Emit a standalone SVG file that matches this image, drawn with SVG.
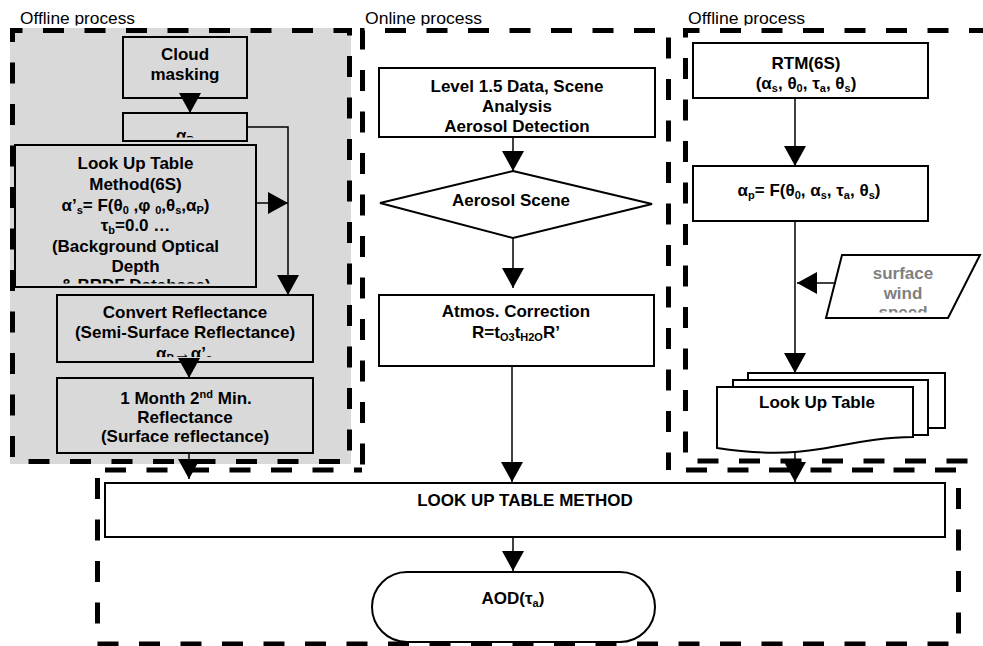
<svg xmlns="http://www.w3.org/2000/svg" width="983" height="646" viewBox="0 0 983 646">
<defs>
<style>
.nd{fill:#fff;stroke:#000;stroke-width:2}
.gn{fill:#d9d9d9;stroke:#000;stroke-width:2}
.t{font-family:"Liberation Sans",Arial,sans-serif;font-weight:bold;font-size:17px;text-anchor:middle;fill:#000}
.gt{fill:#808080}
.ttl{font-family:"Liberation Sans",Arial,sans-serif;font-size:16px;fill:#000}
.pan{fill:none;stroke:#000;stroke-width:5;stroke-dasharray:21 20.5}
.cn{fill:none;stroke:#000;stroke-width:1.5;marker-end:url(#ah)}
</style>
<marker id="ah" markerUnits="userSpaceOnUse" markerWidth="22" markerHeight="22" refX="20" refY="11" orient="auto">
<path d="M0,0 L20,11 L0,22 Z" fill="#000"/>
</marker>
<clipPath id="cTitle"><rect x="0" y="0" width="983" height="25.5"/></clipPath>
<clipPath id="cAP"><rect x="124" y="114" width="122" height="23.5"/></clipPath>
<clipPath id="cLUT"><rect x="16" y="146" width="239" height="137.5"/></clipPath>
<clipPath id="cConv"><rect x="58" y="296" width="254" height="61"/></clipPath>
<clipPath id="cWind"><rect x="826" y="256" width="154" height="56.5"/></clipPath>
</defs>

<g id="panels">
<rect x="10" y="28" width="341" height="436" fill="#d9d9d9"/>
<path class="pan" d="M12.5,40 V30.5 H349.5 V461.5 H12.5 Z" stroke-dashoffset="1.5"/>
<path class="pan" d="M97.5,470 H958.5 V644 H97.5 Z" stroke-dashoffset="34"/>
<rect x="362" y="30" width="307" height="444" fill="#fff"/>
<path class="pan" d="M362.5,470 V30.5 H668.5 V470" stroke-dashoffset="36"/>
<path class="pan" d="M1000,461 H685.5 V30.5 H1000" stroke-dashoffset="9"/>
<g clip-path="url(#cTitle)">
<text class="ttl" x="20" y="24" textLength="115" lengthAdjust="spacingAndGlyphs">Offline process</text>
<text class="ttl" x="365" y="24" textLength="117" lengthAdjust="spacingAndGlyphs">Online process</text>
<text class="ttl" x="688" y="24" textLength="117" lengthAdjust="spacingAndGlyphs">Offline process</text>
</g>
</g>

<g id="cloud">
<rect class="gn" x="123" y="37" width="124" height="61"/>
<text class="t" x="185" y="60">Cloud</text>
<text class="t" x="185" y="80">masking</text>
</g>

<g id="alphaP">
<rect class="gn" x="123" y="113" width="124" height="28"/>
<text class="t" x="185" y="141" clip-path="url(#cAP)">α<tspan dy="3" font-size="11">P</tspan></text>
</g>

<g id="lut6s">
<rect class="gn" x="15" y="145" width="241" height="142"/>
<g clip-path="url(#cLUT)">
<text class="t" x="135.5" y="169">Look Up Table</text>
<text class="t" x="135.5" y="190">Method(6S)</text>
<text class="t" x="135.5" y="211">α’<tspan dy="3" font-size="11">s</tspan><tspan dy="-3">= F(θ</tspan><tspan dy="3" font-size="11">0</tspan><tspan dy="-3"> ,φ </tspan><tspan dy="3" font-size="11">0</tspan><tspan dy="-3">,θ</tspan><tspan dy="3" font-size="11">s</tspan><tspan dy="-3">,α</tspan><tspan dy="3" font-size="11">P</tspan><tspan dy="-3">)</tspan></text>
<text class="t" x="135.5" y="231">τ<tspan dy="3" font-size="11">b</tspan><tspan dy="-3">=0.0 …</tspan></text>
<text class="t" x="135.5" y="252">(Background Optical</text>
<text class="t" x="135.5" y="272">Depth</text>
<text class="t" x="135.5" y="291">&amp; BRDF Database)</text>
</g>
</g>

<g id="convert">
<rect class="gn" x="57" y="295" width="256" height="67"/>
<g clip-path="url(#cConv)">
<text class="t" x="185" y="318">Convert Reflectance</text>
<text class="t" x="185" y="338">(Semi-Surface Reflectance)</text>
<text class="t" x="184" y="359">α<tspan dy="3" font-size="11">P</tspan><tspan dy="-3">→α’</tspan><tspan dy="3" font-size="11">s</tspan></text>
</g>
</g>

<g id="month">
<rect class="gn" x="57" y="378" width="256" height="75"/>
<text class="t" x="186" y="404">1 Month 2<tspan dy="-6" font-size="11">nd</tspan><tspan dy="6"> Min.</tspan></text>
<text class="t" x="185" y="423">Reflectance</text>
<text class="t" x="185" y="442">(Surface reflectance)</text>
</g>

<g id="level">
<rect class="nd" x="379" y="68" width="276" height="69"/>
<text class="t" x="517" y="91.5">Level 1.5 Data, Scene</text>
<text class="t" x="517" y="111.5">Analysis</text>
<text class="t" x="517" y="131.5">Aerosol Detection</text>
</g>

<g id="scene">
<polygon class="nd" points="513,171 652,204 513,238 380,203"/>
<text class="t" x="511" y="206">Aerosol Scene</text>
</g>

<g id="atmos">
<rect class="nd" x="379" y="295" width="275" height="71"/>
<text class="t" x="516" y="316.5">Atmos. Correction</text>
<text class="t" x="516" y="338">R=t<tspan dy="3" font-size="11">O3</tspan><tspan dy="-3">t</tspan><tspan dy="3" font-size="11">H2O</tspan><tspan dy="-3">R’</tspan></text>
</g>

<g id="rtm">
<rect class="nd" x="693" y="43" width="235" height="55"/>
<text class="t" x="806" y="69">RTM(6S)</text>
<text class="t" x="806" y="89">(α<tspan dy="3" font-size="11">s</tspan><tspan dy="-3">, θ</tspan><tspan dy="3" font-size="11">0</tspan><tspan dy="-3">, τ</tspan><tspan dy="3" font-size="11">a</tspan><tspan dy="-3">, θ</tspan><tspan dy="3" font-size="11">s</tspan><tspan dy="-3">)</tspan></text>
</g>

<g id="alphap">
<rect class="nd" x="693" y="166" width="235" height="55"/>
<text class="t" x="809" y="196">α<tspan dy="3" font-size="11">p</tspan><tspan dy="-3">= F(θ</tspan><tspan dy="3" font-size="11">0</tspan><tspan dy="-3">, α</tspan><tspan dy="3" font-size="11">s</tspan><tspan dy="-3">, τ</tspan><tspan dy="3" font-size="11">a</tspan><tspan dy="-3">, θ</tspan><tspan dy="3" font-size="11">s</tspan><tspan dy="-3">)</tspan></text>
</g>

<g id="wind">
<polygon class="nd" points="842,255 980,255 948,318 826,318"/>
<g clip-path="url(#cWind)">
<text class="t gt" x="903" y="278.5">surface</text>
<text class="t gt" x="903" y="298.5">wind</text>
<text class="t gt" x="903" y="318">speed</text>
</g>
</g>

<g id="lutstack">
<rect class="nd" x="748" y="373" width="197" height="55"/>
<rect class="nd" x="733" y="380" width="195" height="55"/>
<path class="nd" d="M717,387 H913 V437 C880,437 850,444 820,449 C785,455 750,453 717,448 Z"/>
<text class="t" x="817" y="408">Look Up Table</text>
</g>

<g id="lutmethod">
<rect class="nd" x="105" y="483" width="840" height="54"/>
<text class="t" x="525" y="506">LOOK UP TABLE METHOD</text>
</g>

<g id="aod">
<rect class="nd" x="372" y="572" width="283" height="70" rx="35" ry="35"/>
<text class="t" x="513" y="604">AOD(τ<tspan dy="3" font-size="11">a</tspan><tspan dy="-3">)</tspan></text>
</g>

<g id="connectors">
<path class="cn" d="M190,98 V113"/>
<path class="cn" d="M247,127 H288 V295"/>
<path class="cn" d="M256,203 H288"/>
<path class="cn" d="M189,362 V378"/>
<path class="cn" d="M189,453 V479"/>
<path class="cn" d="M513,137 V171"/>
<path class="cn" d="M513,238 V288"/>
<path class="cn" d="M512,366 V482"/>
<path class="cn" d="M795,98 V166"/>
<path class="cn" d="M795,221 V373"/>
<path class="cn" d="M836,283 H797"/>
<path class="cn" d="M795,452 V482"/>
<path class="cn" d="M513,537 V571"/>
</g>
</svg>
